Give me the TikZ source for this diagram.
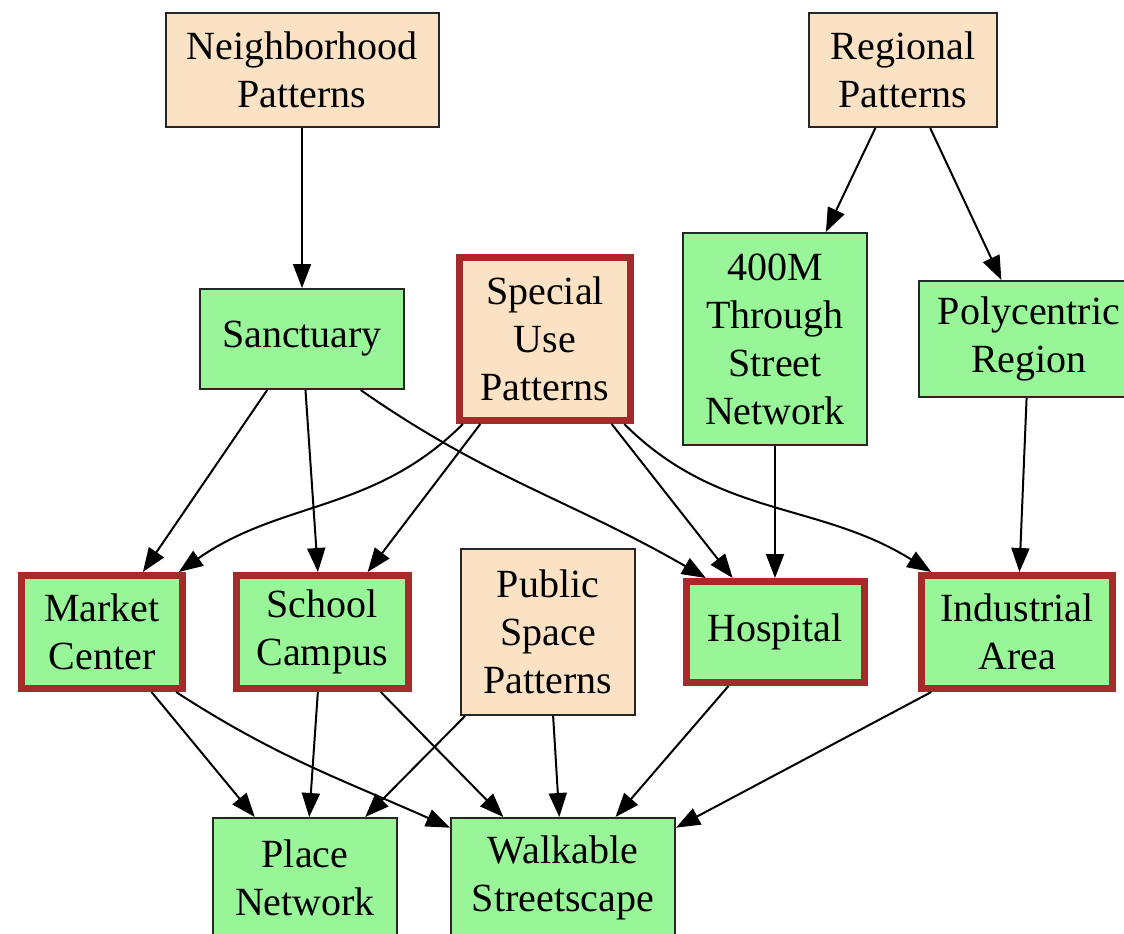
\documentclass[tikz,border=0pt]{standalone}
\usepackage{fontspec}
\setmainfont{Liberation Serif}
\usepackage{xcolor}
\usetikzlibrary{arrows.meta}

\definecolor{bisque}{HTML}{FCE2C4}
\definecolor{palegreen}{HTML}{98F598}
\definecolor{brickred}{HTML}{A52A2A}

\begin{document}
\begin{tikzpicture}[
        x=0.5pt, y=-0.5pt,
        box/.style={draw=black!85, line width=1pt, rectangle, align=center, inner sep=2pt, font=\fontsize{20}{24}\selectfont},
        patbox/.style={box, fill=bisque},
        itembox/.style={box, fill=palegreen},
        hotbox/.style={draw=brickred, line width=3.5pt},
        arrow/.style={-{Triangle[length=12pt,width=9pt]}, line width=1pt}
        ]
        \useasboundingbox (0,0) rectangle (1124,933);
        \clip (0,0) rectangle (1124,933);

        % top row
        \node[patbox, minimum width=136.5pt, minimum height=57pt] (nbhd) at (302,70) {Neighborhood\\Patterns};
        \node[patbox, minimum width=94pt, minimum height=57pt] (region) at (903,70) {Regional\\Patterns};

        % second row
        \node[itembox, minimum width=102pt, minimum height=50pt] (sanct) at (302,339) {Sanctuary};
        \node[patbox, hotbox, minimum width=85.5pt, minimum height=81.5pt] (special) at (545,339) {Special\\Use\\Patterns};
        \node[itembox, minimum width=92pt, minimum height=106pt] (street) at (775,339) {400M\\Through\\Street\\Network};
        \node[itembox, minimum width=110pt, minimum height=58pt] (poly) at (1029,339) {Polycentric\\Region};

        % third row
        \node[itembox, hotbox, minimum width=80.5pt, minimum height=56.5pt] (market) at (102,632) {Market\\Center};
        \node[itembox, hotbox, minimum width=86pt, minimum height=56.5pt] (school) at (322,632) {School\\Campus};
        \node[patbox, minimum width=87pt, minimum height=83pt] (public) at (548,632) {Public\\Space\\Patterns};
        \node[itembox, hotbox, minimum width=89pt, minimum height=50.5pt] (hosp) at (775,632) {Hospital};
        \node[itembox, hotbox, minimum width=95.5pt, minimum height=56.5pt] (indus) at (1017,632) {Industrial\\Area};

        % bottom row (cut off at the lower edge)
        \node[itembox, minimum width=92pt, minimum height=60pt] (place) at (305,878) {Place\\Network};
        \node[itembox, minimum width=112pt, minimum height=60pt] (walk) at (563,878) {Walkable\\Streetscape};

        \draw[arrow] (nbhd) -- (sanct);
        \draw[arrow] (region) -- (street);
        \draw[arrow] (region) -- (poly);

        \draw[arrow] (sanct) -- (market);
        \draw[arrow] (sanct) -- (school);
        \draw[arrow] (sanct.-41) to[out=-35, in=150] (hosp.142);

        \draw[arrow] (special.-134) to[out=-135, in=35] (market.38);
        \draw[arrow] (special) -- (school);
        \draw[arrow] (special) -- (hosp);
        \draw[arrow] (special.-47) to[out=-45, in=148] (indus.145);

        \draw[arrow] (street) -- (hosp);
        \draw[arrow] (poly) -- (indus);

        \draw[arrow] (market) -- (place);
        \draw[arrow] (market.-39) to[out=-33, in=156] (walk.156);
        \draw[arrow] (school) -- (place);
        \draw[arrow] (school) -- (walk);
        \draw[arrow] (public) -- (place);
        \draw[arrow] (public) -- (walk);
        \draw[arrow] (hosp) -- (walk);
        \draw[arrow] (indus.-145) -- (walk.24);
    \end{tikzpicture}
\end{document}
